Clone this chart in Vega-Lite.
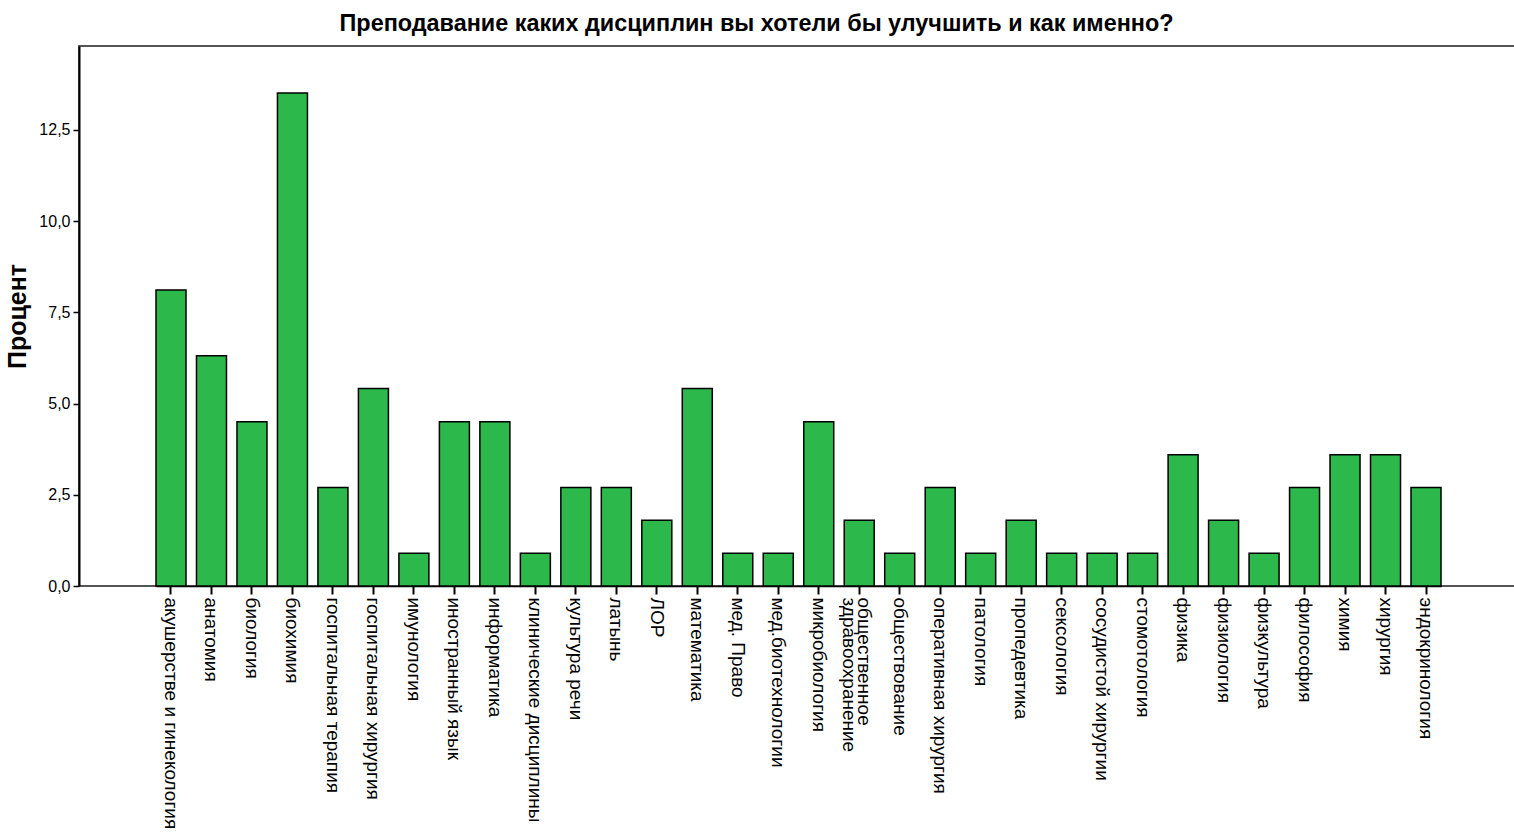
{
  "$schema": "https://vega.github.io/schema/vega-lite/v6.json",
  "autosize": {"type": "none"},
  "padding": {"left": 79, "top": 46, "right": 0, "bottom": 252},
  "width": 1439,
  "height": 540,
  "background": "white",
  "title": {
    "text": "Преподавание каких дисциплин вы хотели бы улучшить и как именно?",
    "font": "Liberation Sans, Arial",
    "fontSize": 23.4,
    "fontWeight": "bold",
    "color": "black",
    "anchor": "middle",
    "frame": "group",
    "dx": -42,
    "offset": 10
  },
  "config": {
    "view": {"stroke": "#555555", "strokeWidth": 2},
    "axis": {"grid": false}
  },
  "data": {
    "values": [
      {"discipline": "акушерстве и гинекология", "percent": 8.11},
      {"discipline": "анатомия", "percent": 6.31},
      {"discipline": "биология", "percent": 4.5},
      {"discipline": "биохимия", "percent": 13.51},
      {"discipline": "госпитальная терапия", "percent": 2.7},
      {"discipline": "госпитальная хирургия", "percent": 5.41},
      {"discipline": "имунология", "percent": 0.9},
      {"discipline": "иностранный язык", "percent": 4.5},
      {"discipline": "информатика", "percent": 4.5},
      {"discipline": "клинические дисциплины", "percent": 0.9},
      {"discipline": "культура речи", "percent": 2.7},
      {"discipline": "латынь", "percent": 2.7},
      {"discipline": "ЛОР", "percent": 1.8},
      {"discipline": "математика", "percent": 5.41},
      {"discipline": "мед. Право", "percent": 0.9},
      {"discipline": "мед.биотехнологии", "percent": 0.9},
      {"discipline": "микробиология", "percent": 4.5},
      {"discipline": "общественное|здравоохранение", "percent": 1.8},
      {"discipline": "обществование", "percent": 0.9},
      {"discipline": "оперативная хирургия", "percent": 2.7},
      {"discipline": "патология", "percent": 0.9},
      {"discipline": "пропедевтика", "percent": 1.8},
      {"discipline": "сексология", "percent": 0.9},
      {"discipline": "сосудистой хирургии", "percent": 0.9},
      {"discipline": "стомотология", "percent": 0.9},
      {"discipline": "физика", "percent": 3.6},
      {"discipline": "физиология", "percent": 1.8},
      {"discipline": "физкультура", "percent": 0.9},
      {"discipline": "философия", "percent": 2.7},
      {"discipline": "химия", "percent": 3.6},
      {"discipline": "хирургия", "percent": 3.6},
      {"discipline": "эндокринология", "percent": 2.7}
    ]
  },
  "mark": {"type": "bar", "color": "#2DB84B", "stroke": "black", "strokeWidth": 1.5},
  "encoding": {
    "x": {
      "field": "discipline",
      "type": "nominal",
      "sort": null,
      "scale": {"paddingInner": 0.259, "paddingOuter": 0, "range": [77, 1362]},
      "axis": {
        "title": null,
        "labelAngle": 90,
        "labelAlign": "left",
        "labelBaseline": "middle",
        "labelFont": "Liberation Sans, Arial",
        "labelFontSize": 19,
        "labelLineHeight": 15,
        "labelColor": "black",
        "labelPadding": 3,
        "labelLimit": 400,
        "labelOffset": {"condition": {"test": "indexof(datum.value, '|') >= 0", "value": 5}, "value": 0},
        "labelExpr": "split(datum.label, '|')",
        "tickSize": 8,
        "tickWidth": 2,
        "tickColor": "black",
        "domainColor": "black",
        "domainWidth": 1.5
      }
    },
    "y": {
      "field": "percent",
      "type": "quantitative",
      "scale": {"domain": [0, 14.8], "nice": false},
      "axis": {
        "title": "Процент",
        "titleFont": "Liberation Sans, Arial",
        "titleFontSize": 25,
        "titleFontWeight": "bold",
        "titleColor": "black",
        "titlePadding": 8,
        "values": [0, 2.5, 5, 7.5, 10, 12.5],
        "labelExpr": "replace(format(datum.value, '.1f'), '.', ',')",
        "labelFont": "Liberation Sans, Arial",
        "labelFontSize": 16,
        "labelColor": "black",
        "labelPadding": 3,
        "tickSize": 6,
        "tickWidth": 1.5,
        "tickColor": "black",
        "domainColor": "black",
        "domainWidth": 2
      }
    }
  }
}
